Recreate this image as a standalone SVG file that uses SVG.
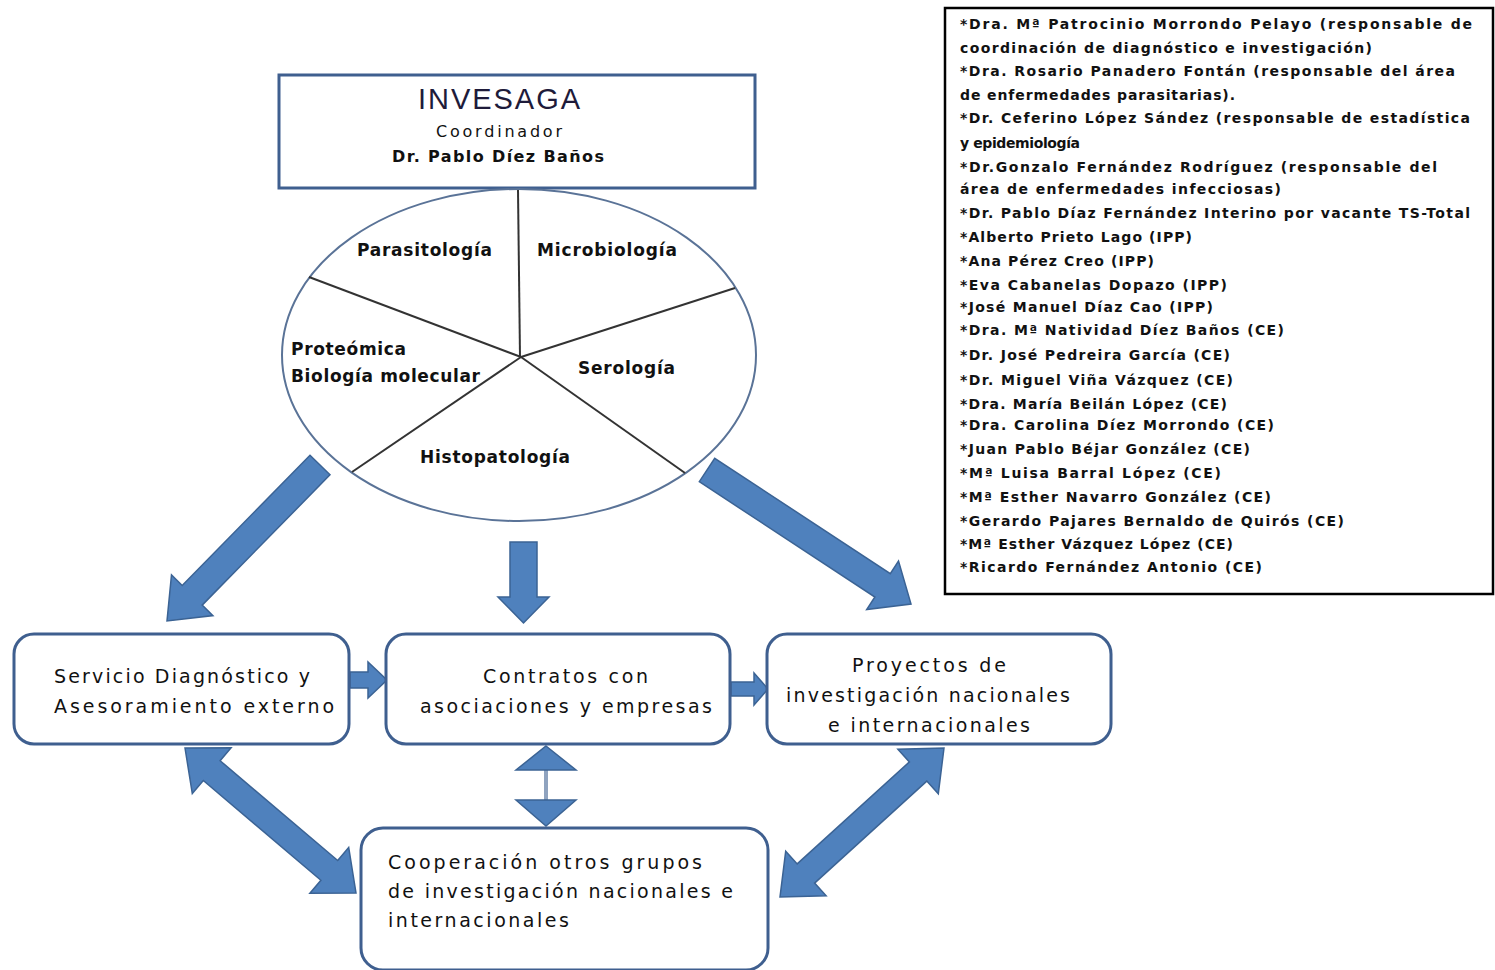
<svg xmlns="http://www.w3.org/2000/svg" width="1495" height="970" viewBox="0 0 1495 970">
<style>
.box{fill:#fff;stroke:#3F5F8F;stroke-width:3}
.arr{fill:#4F81BD;stroke:#3B6394;stroke-width:1.5;stroke-linejoin:miter}
.lbl{font-family:"DejaVu Sans",sans-serif;font-size:19px;fill:#111}
.ell{font-family:"DejaVu Sans",sans-serif;font-size:17px;fill:#111;font-weight:bold}
.lst{font-family:"DejaVu Sans",sans-serif;font-size:14px;font-weight:bold;fill:#111}
.spk{stroke:#333;stroke-width:2;fill:none}
</style>
<rect width="1495" height="970" fill="#fff"/>

<g id="header">
<rect class="box" x="279" y="75" width="476" height="113"/>
<text x="499" y="109" text-anchor="middle" font-family="Liberation Sans, sans-serif" font-size="29" fill="#1e1b3a" textLength="162">INVESAGA</text>
<text x="499" y="137" text-anchor="middle" font-family="DejaVu Sans, sans-serif" font-size="16" fill="#111" textLength="126">Coordinador</text>
<text x="498" y="162" text-anchor="middle" font-family="DejaVu Sans, sans-serif" font-size="16" font-weight="bold" fill="#111" textLength="212">Dr. Pablo Díez Baños</text>
</g>

<g id="areas">
<ellipse cx="519" cy="355" rx="237" ry="166" fill="#fff" stroke="#5a7397" stroke-width="2"/>
<line class="spk" x1="518" y1="190" x2="520" y2="357"/>
<line class="spk" x1="521" y1="357" x2="309" y2="277"/>
<line class="spk" x1="521" y1="357" x2="735" y2="288"/>
<line class="spk" x1="521" y1="357" x2="352" y2="472"/>
<line class="spk" x1="521" y1="357" x2="685" y2="473"/>
<text class="ell" x="357" y="256" textLength="135">Parasitología</text>
<text class="ell" x="537" y="256" textLength="140">Microbiología</text>
<text class="ell" x="291" y="355" textLength="115">Proteómica</text>
<text class="ell" x="291" y="382" textLength="189">Biología molecular</text>
<text class="ell" x="578" y="374" textLength="97">Serología</text>
<text class="ell" x="420" y="463" textLength="150">Histopatología</text>
</g>

<g id="staff">
<rect x="945" y="8" width="548" height="586" fill="#fff" stroke="#000" stroke-width="2.5"/>
<text class="lst" x="960" y="29" textLength="512">*Dra. Mª Patrocinio Morrondo Pelayo (responsable de</text>
<text class="lst" x="960" y="53" textLength="412">coordinación de diagnóstico e investigación)</text>
<text class="lst" x="960" y="76" textLength="495">*Dra. Rosario Panadero Fontán (responsable del área</text>
<text class="lst" x="960" y="100" textLength="275">de enfermedades parasitarias).</text>
<text class="lst" x="960" y="123" textLength="510">*Dr. Ceferino López Sández (responsable de estadística</text>
<text class="lst" x="960" y="148" textLength="120">y epidemiología</text>
<text class="lst" x="960" y="172" textLength="477">*Dr.Gonzalo Fernández Rodríguez (responsable del</text>
<text class="lst" x="960" y="194" textLength="321">área de enfermedades  infecciosas)</text>
<text class="lst" x="960" y="218" textLength="510">*Dr. Pablo Díaz Fernández  Interino por vacante TS-Total</text>
<text class="lst" x="960" y="242" textLength="232">*Alberto Prieto Lago (IPP)</text>
<text class="lst" x="960" y="266" textLength="194">*Ana Pérez Creo (IPP)</text>
<text class="lst" x="960" y="290" textLength="267">*Eva Cabanelas Dopazo (IPP)</text>
<text class="lst" x="960" y="312" textLength="253">*José Manuel Díaz Cao (IPP)</text>
<text class="lst" x="960" y="335" textLength="324">*Dra. Mª Natividad Díez Baños (CE)</text>
<text class="lst" x="960" y="360" textLength="270">*Dr. José Pedreira García (CE)</text>
<text class="lst" x="960" y="385" textLength="273">*Dr. Miguel Viña Vázquez (CE)</text>
<text class="lst" x="960" y="409" textLength="267">*Dra. María Beilán López (CE)</text>
<text class="lst" x="960" y="430" textLength="314">*Dra. Carolina Díez Morrondo (CE)</text>
<text class="lst" x="960" y="454" textLength="290">*Juan Pablo Béjar González (CE)</text>
<text class="lst" x="960" y="478" textLength="261">*Mª Luisa Barral López (CE)</text>
<text class="lst" x="960" y="502" textLength="311">*Mª Esther Navarro  González (CE)</text>
<text class="lst" x="960" y="526" textLength="384">*Gerardo Pajares Bernaldo de Quirós (CE)</text>
<text class="lst" x="960" y="549" textLength="273">*Mª Esther Vázquez López (CE)</text>
<text class="lst" x="960" y="572" textLength="302">*Ricardo Fernández Antonio (CE)</text>
</g>

<g id="connectors">
<polygon class="arr" points="330,474.8 202.2,605.1 212.9,615.6 167,621 171.5,575 182.2,585.5 310,455.2"/>
<polygon class="arr" points="510,542 537,542 537,597 549,597 523.5,623 498,597 510,597"/>
<polygon class="arr" points="699.3,481.7 874.9,597 866.7,609.5 911,604 898.5,561.1 890.3,573.6 714.7,458.3"/>
<polygon class="arr" points="350,672 368,672 368,662 387,680 368,698 368,688 350,688"/>
<polygon class="arr" points="731,682 754,682 754,673 768,689 754,705 754,696 731,696"/>
<line x1="546" y1="770" x2="546" y2="800" stroke="#8fa3bf" stroke-width="4"/>
<polygon class="arr" points="546,746 576,770 516,770"/>
<polygon class="arr" points="516,800 576,800 546,826"/>
<polygon class="arr" points="185,748 192.3,793.5 203.3,780.5 320.9,880.3 309.9,893.3 356,893 348.7,847.5 337.7,860.5 220.1,760.7 231.1,747.7"/>
<polygon class="arr" points="944,748 938.3,793.7 926.8,781.1 814.6,883.1 826.1,895.7 780,897 785.7,851.3 797.2,863.9 909.4,761.9 897.9,749.3"/>
</g>

<g id="servicio">
<rect class="box" x="14" y="634" width="335" height="110" rx="20"/>
<text class="lbl" x="54" y="683" textLength="256">Servicio Diagnóstico y</text>
<text class="lbl" x="54" y="713" textLength="280">Asesoramiento externo</text>
</g>

<g id="contratos">
<rect class="box" x="386" y="634" width="344" height="110" rx="20"/>
<text class="lbl" x="483" y="683" textLength="165">Contratos con</text>
<text class="lbl" x="420" y="713" textLength="292">asociaciones y empresas</text>
</g>

<g id="proyectos">
<rect class="box" x="767" y="634" width="344" height="110" rx="20"/>
<text class="lbl" x="852" y="672" textLength="154">Proyectos de</text>
<text class="lbl" x="786" y="702" textLength="284">investigación nacionales</text>
<text class="lbl" x="828" y="732" textLength="202">e internacionales</text>
</g>

<g id="cooperacion">
<rect class="box" x="361" y="828" width="407" height="142" rx="22"/>
<text class="lbl" x="388" y="869" textLength="314">Cooperación  otros grupos</text>
<text class="lbl" x="388" y="898" textLength="345">de investigación nacionales e</text>
<text class="lbl" x="388" y="927" textLength="181">internacionales</text>
</g>
</svg>
